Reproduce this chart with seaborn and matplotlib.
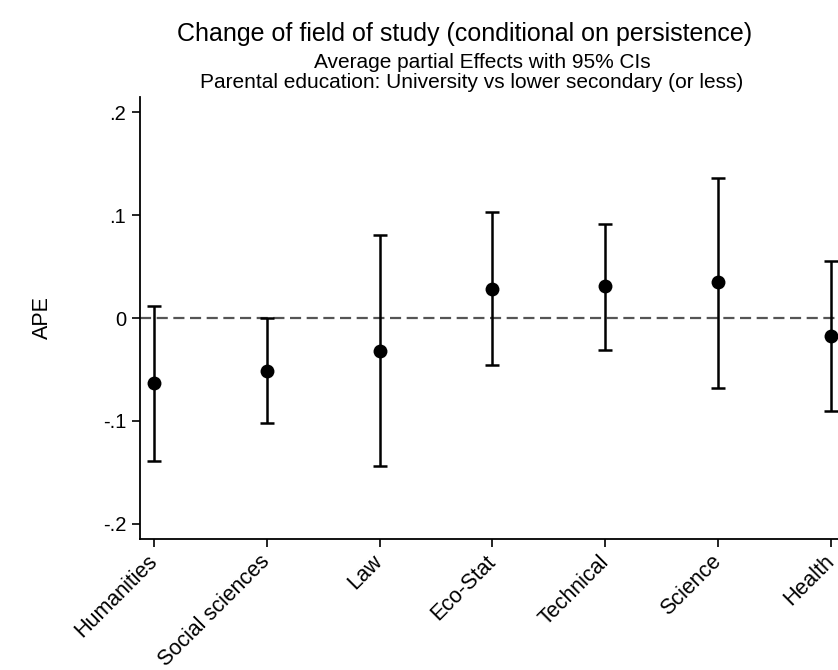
import numpy as np
import pandas as pd
import matplotlib
matplotlib.use("Agg")
import matplotlib.pyplot as plt
import seaborn as sns

# data
fields = ["Humanities", "Social sciences", "Law", "Eco-Stat", "Technical", "Science", "Health"]
ape = [-0.063, -0.051, -0.032, 0.028, 0.031, 0.035, -0.017]
ci_low = [-0.139, -0.102, -0.144, -0.046, -0.031, -0.068, -0.090]
ci_high = [0.012, 0.000, 0.081, 0.103, 0.091, 0.136, 0.055]

ytick_vals = [-0.2, -0.1, 0.0, 0.1, 0.2]
ytick_labels = ["-.2", "-.1", "0", ".1", ".2"]

df = pd.DataFrame({"field": fields, "ape": ape, "lo": ci_low, "hi": ci_high})
df["pos"] = np.arange(len(df))

sns.set_style("ticks")
plt.rcParams["font.family"] = ["Liberation Sans", "DejaVu Sans"]
plt.rcParams["text.color"] = "black"
plt.rcParams["axes.labelcolor"] = "black"
plt.rcParams["xtick.color"] = "black"
plt.rcParams["ytick.color"] = "black"

fig = plt.figure(figsize=(8.38, 6.70), dpi=100)
ax = fig.add_axes([140 / 838, 131 / 670, 698 / 838, 442 / 670])

ax.axhline(0, color="#555555", lw=1.6, ls=(0, (5, 2.5)), zorder=1)

yerr = np.vstack([df["ape"] - df["lo"], df["hi"] - df["ape"]])
ax.errorbar(df["pos"], df["ape"], yerr=yerr, fmt="none", ecolor="black",
            elinewidth=1.8, capsize=5, capthick=1.8, zorder=2, clip_on=False)
sns.scatterplot(data=df, x="pos", y="ape", ax=ax, color="black", s=100,
                edgecolor="black", linewidth=0, zorder=3, legend=False)

ax.set_xlim(-0.124, 6.062)
ax.set_ylim(-0.2146, 0.2146)
ax.set_xticks(df["pos"])
ax.set_xticklabels(df["field"], rotation=45, ha="right", va="center",
                   rotation_mode="anchor", fontsize=15.5)
ax.set_yticks(ytick_vals)
ax.set_yticklabels(ytick_labels, fontsize=14.5)
ax.tick_params(axis="both", length=6, width=1.2, pad=4)
ax.tick_params(axis="x", pad=8)
ax.set_xlabel("")
ax.set_ylabel("APE", fontsize=15.5, labelpad=36)

sns.despine(ax=ax, top=True, right=True)
for side in ["left", "bottom"]:
    ax.spines[side].set_linewidth(1.3)
    ax.spines[side].set_color("black")

fig.text(465 / 838, 1 - 34 / 670, "Change of field of study (conditional on persistence)",
         ha="center", va="center", fontsize=18)
fig.text(482 / 838, 1 - 62 / 670, "Average partial Effects with 95% CIs",
         ha="center", va="center", fontsize=15)
fig.text(472 / 838, 1 - 82 / 670, "Parental education: University vs lower secondary (or less)",
         ha="center", va="center", fontsize=15)

fig.savefig("out.png", dpi=100)
